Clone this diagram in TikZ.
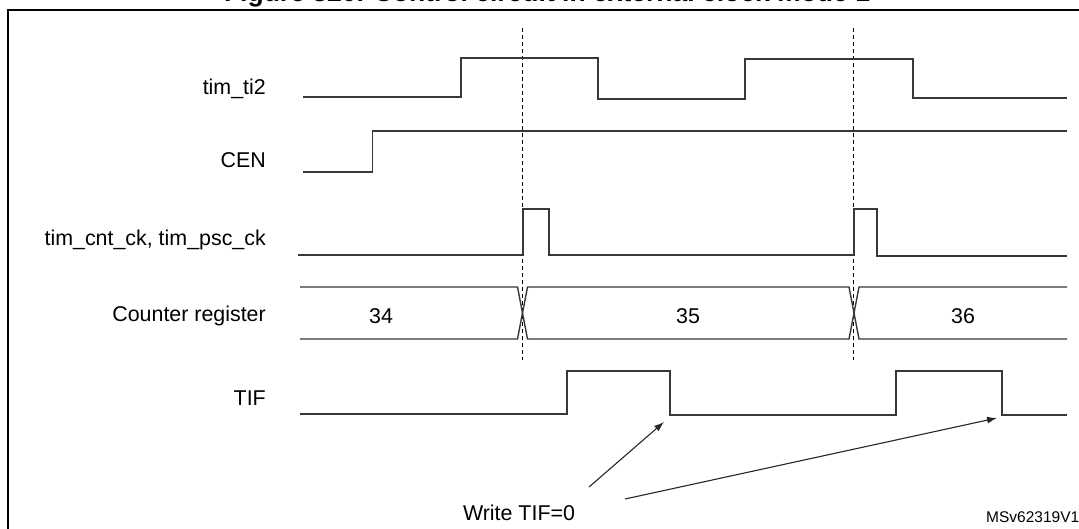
\documentclass[tikz,border=0pt]{standalone}
\usepackage{fontspec}
\setmainfont{Liberation Sans}
\usetikzlibrary{arrows.meta}
\begin{document}
\begin{tikzpicture}[x=1pt,y=-1pt,
  sig/.style={draw=black!78,line width=1.4pt},
  lbl/.style={anchor=base east,font=\fontsize{21.4}{24}\selectfont,inner sep=0pt},
  val/.style={anchor=base,font=\fontsize{21.4}{24}\selectfont,inner sep=0pt},
  guide/.style={draw=black,line width=0.9pt,dash pattern=on 4pt off 3pt},
  ptr/.style={draw=black!85,line width=1.1pt,-{Latex[length=10pt,width=7pt]}}]
\useasboundingbox (0,0) rectangle (1079,528);
% title (cut at top) and frame
\node[anchor=base,font=\bfseries\fontsize{26.5}{30}\selectfont,inner sep=0pt] (title) at (547,1.5) {Figure 320. Control circuit in external clock mode 1};
\draw[line width=2.4pt] (1100,10) -- (8,10) -- (8,560);
% guides
\draw[guide] (522.5,28) -- (522.5,360);
\draw[guide] (853.5,28) -- (853.5,360);
% labels
\node[lbl] (lti2) at (266,94) {tim\_ti2};
\node[lbl] (lcen) at (266,167) {CEN};
\node[lbl] (lck) at (266,245) {tim\_cnt\_ck, tim\_psc\_ck};
\node[lbl] (lcnt) at (266,321.5) {Counter register};
\node[lbl] (ltif) at (266,405) {TIF};
% tim_ti2
\draw[sig] (303,97) -- (461,97) -- (461,58) -- (598,58) -- (598,99) -- (745,99) -- (745,59) -- (913,59) -- (913,98) -- (1067,98);
% CEN
\draw[sig] (303,172) -- (372.5,172) -- (372.5,131) -- (1067,131);
% tim_cnt_ck
\draw[sig] (298,255) -- (523,255) -- (523,209) -- (549,209) -- (549,255) -- (854,255) -- (854,209) -- (877,209) -- (877,256) -- (1067,256);
% counter register
\draw[sig] (300,287) -- (517.5,287) -- (527.5,339) -- (849,339) -- (859,287) -- (1067,287);
\draw[sig] (300,339) -- (517.5,339) -- (527.5,287) -- (849,287) -- (859,339) -- (1067,339);
\node[val] (v34) at (381,323) {34};
\node[val] (v35) at (688,323) {35};
\node[val] (v36) at (963,323) {36};
% TIF
\draw[sig] (300,414) -- (567,414) -- (567,371) -- (670,371) -- (670,415) -- (896,415) -- (896,371) -- (1002,371) -- (1002,415) -- (1067,415);
% write TIF=0
\node[val] (wtif) at (519,520) {Write TIF=0};
\coordinate (tail1) at (589,487);
\coordinate (tail2) at (625,499);
\coordinate (head1) at (664,422);
\coordinate (head2) at (997,418);
\draw[ptr] (tail1) -- (head1);
\draw[ptr] (tail2) -- (head2);
\node[anchor=base west,font=\fontsize{15.5}{18}\selectfont,inner sep=0pt] (ref) at (986,522) {MSv62319V1};
\end{tikzpicture}
\end{document}
